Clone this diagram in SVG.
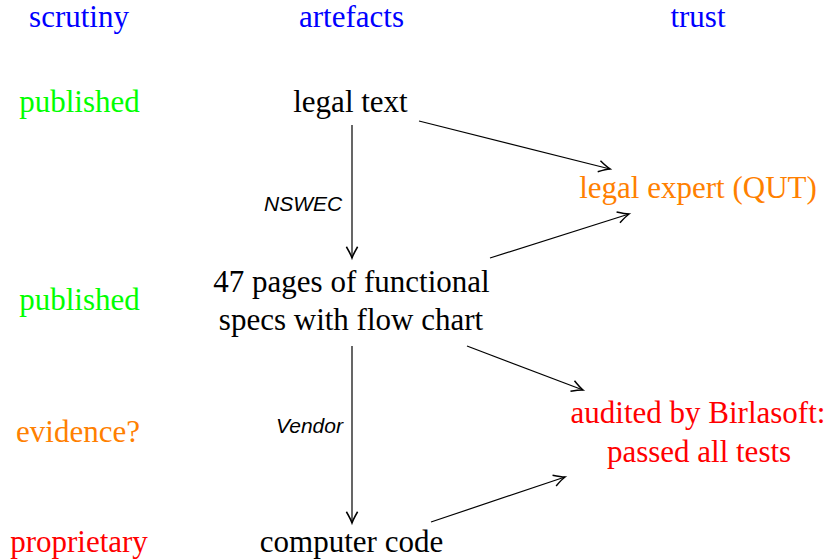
<svg xmlns="http://www.w3.org/2000/svg" width="832" height="559" viewBox="0 0 832 559">
<defs>
<marker id="arr" markerUnits="userSpaceOnUse" markerWidth="20" markerHeight="20" refX="0" refY="0" viewBox="-12 -8 14 16" orient="auto">
<path d="M -9 -4.5 Q -3 -1 0 0 Q -3 1 -9 4.5" fill="none" stroke="#000" stroke-width="1.2"/>
</marker>
</defs>
<g id="headers" font-family="Liberation Serif, Times New Roman, serif" font-size="31" text-anchor="middle" fill="#0000ff">
<text x="79" y="27">scrutiny</text>
<text x="351.5" y="27">artefacts</text>
<text x="698" y="27">trust</text>
</g>
<g id="scrutiny-col" font-family="Liberation Serif, Times New Roman, serif" font-size="31" text-anchor="middle">
<text fill="#00ff00" x="79.5" y="112">published</text>
<text fill="#00ff00" x="79.5" y="310">published</text>
<text fill="#ff8000" x="78" y="442">evidence?</text>
<text fill="#ff0000" x="79" y="552">proprietary</text>
</g>
<g id="legal-text" font-family="Liberation Serif, Times New Roman, serif" font-size="31" text-anchor="middle" fill="#000"><text x="350.5" y="112">legal text</text></g>
<g id="specs" font-family="Liberation Serif, Times New Roman, serif" font-size="31" text-anchor="middle" fill="#000">
<text x="351.5" y="292">47 pages of functional</text>
<text x="351" y="330">specs with flow chart</text>
</g>
<g id="code" font-family="Liberation Serif, Times New Roman, serif" font-size="31" text-anchor="middle" fill="#000"><text x="351.5" y="552">computer code</text></g>
<g id="legal-expert" font-family="Liberation Serif, Times New Roman, serif" font-size="31" text-anchor="middle" fill="#ff8000"><text x="698" y="198">legal expert (QUT)</text></g>
<g id="audited" font-family="Liberation Serif, Times New Roman, serif" font-size="31" text-anchor="middle" fill="#ff0000">
<text x="698" y="423">audited by Birlasoft:</text>
<text x="699" y="462">passed all tests</text>
</g>
<g id="connectors" stroke="#000" stroke-width="1.2" fill="none">
<line x1="352" y1="125" x2="352" y2="258" marker-end="url(#arr)"/>
<line x1="419" y1="121" x2="610" y2="169" marker-end="url(#arr)"/>
<line x1="490" y1="258" x2="629" y2="214" marker-end="url(#arr)"/>
<line x1="352" y1="346" x2="352" y2="523" marker-end="url(#arr)"/>
<line x1="467" y1="346" x2="583" y2="390" marker-end="url(#arr)"/>
<line x1="431" y1="522" x2="565" y2="477" marker-end="url(#arr)"/>
<text font-family="Liberation Sans, Arial, sans-serif" font-style="italic" font-size="21" fill="#000" stroke="none" x="264" y="211">NSWEC</text>
<text font-family="Liberation Sans, Arial, sans-serif" font-style="italic" font-size="21" fill="#000" stroke="none" x="276" y="433">Vendor</text>
</g>
</svg>
